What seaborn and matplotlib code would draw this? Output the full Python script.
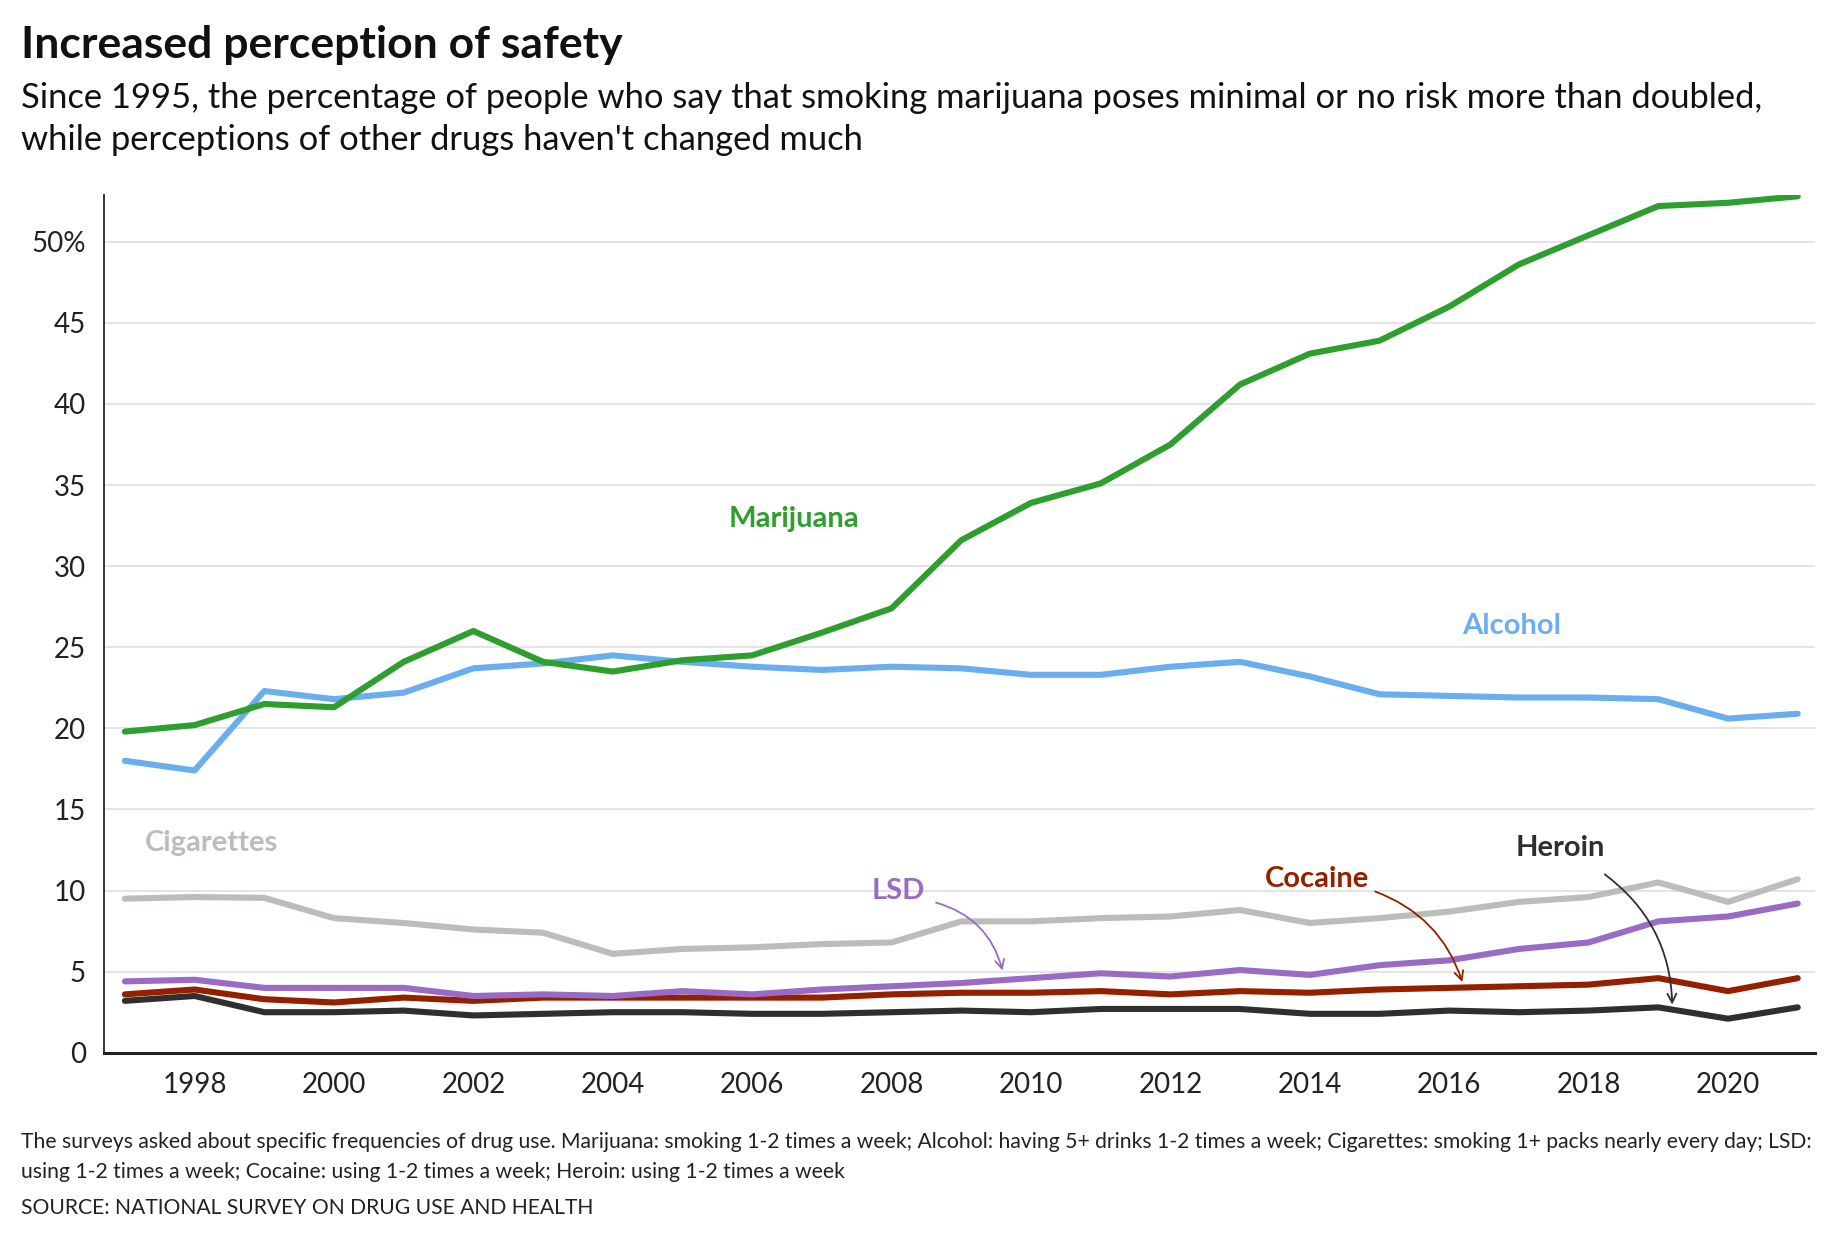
import matplotlib
matplotlib.use("Agg")
import matplotlib.pyplot as plt
import seaborn as sns
import pandas as pd

years = list(range(1997, 2022))
marijuana = [19.8, 20.2, 21.5, 21.3, 24.1, 26.0, 24.1, 23.5, 24.2, 24.5, 25.9, 27.4, 31.6,
             33.9, 35.1, 37.5, 41.2, 43.1, 43.9, 46.0, 48.6, 50.4, 52.2, 52.4, 52.8]
alcohol = [18.0, 17.4, 22.3, 21.8, 22.2, 23.7, 24.0, 24.5, 24.1, 23.8, 23.6, 23.8, 23.7,
           23.3, 23.3, 23.8, 24.1, 23.2, 22.1, 22.0, 21.9, 21.9, 21.8, 20.6, 20.9]
cigarettes = [9.5, 9.6, 9.55, 8.3, 8.0, 7.6, 7.4, 6.1, 6.4, 6.5, 6.7, 6.8, 8.1,
              8.1, 8.3, 8.4, 8.8, 8.0, 8.3, 8.7, 9.3, 9.6, 10.5, 9.3, 10.7]
lsd = [4.4, 4.5, 4.0, 4.0, 4.0, 3.5, 3.6, 3.5, 3.8, 3.6, 3.9, 4.1, 4.3,
       4.6, 4.9, 4.7, 5.1, 4.8, 5.4, 5.7, 6.4, 6.8, 8.1, 8.4, 9.2]
cocaine = [3.6, 3.9, 3.3, 3.1, 3.4, 3.2, 3.4, 3.4, 3.4, 3.4, 3.4, 3.6, 3.7,
           3.7, 3.8, 3.6, 3.8, 3.7, 3.9, 4.0, 4.1, 4.2, 4.6, 3.8, 4.6]
heroin = [3.2, 3.5, 2.5, 2.5, 2.6, 2.3, 2.4, 2.5, 2.5, 2.4, 2.4, 2.5, 2.6,
          2.5, 2.7, 2.7, 2.7, 2.4, 2.4, 2.6, 2.5, 2.6, 2.8, 2.1, 2.8]

drugs = ["Cigarettes", "Alcohol", "Heroin", "Cocaine", "LSD", "Marijuana"]
series = [cigarettes, alcohol, heroin, cocaine, lsd, marijuana]
colors = {"Marijuana": "#2e9e2e", "Alcohol": "#6aaef0", "Cigarettes": "#babeb8",
          "LSD": "#9a6bc4", "Cocaine": "#942000", "Heroin": "#2f2f2f"}

df = pd.DataFrame({
    "year": years * len(drugs),
    "pct": sum(series, []),
    "drug": [d for d in drugs for _ in years],
})

sns.set_style("white")
plt.rcParams["font.family"] = ["Lato", "DejaVu Sans"]

fig = plt.figure(figsize=(18.4, 12.4), dpi=100)
ax = fig.add_axes([0.0565, 0.151, 0.93, 0.692])

sns.lineplot(data=df, x="year", y="pct", hue="drug", palette=colors,
             hue_order=drugs, linewidth=4.4, legend=False, ax=ax)

ax.set_xlim(1996.7, 2021.25)
ax.set_ylim(0, 52.9)
ax.set_xticks(range(1998, 2021, 2))
ax.set_yticks(range(0, 51, 5))
ax.set_yticklabels([str(v) for v in range(0, 50, 5)] + ["50%"])
ax.grid(axis="y", color="#e2e2e2", linewidth=1.3)
ax.set_axisbelow(True)
ax.set_xlabel("")
ax.set_ylabel("")
for s in ["top", "right"]:
    ax.spines[s].set_visible(False)
ax.spines["left"].set_color("#222222")
ax.spines["bottom"].set_color("#222222")
ax.spines["left"].set_linewidth(1.3)
ax.spines["bottom"].set_linewidth(2.2)
ax.tick_params(axis="y", length=7, width=1.3, color="#222222", labelsize=20,
               pad=6, labelcolor="#222222")
ax.tick_params(axis="x", length=0, labelsize=20, pad=14, labelcolor="#222222")

# line labels
lab = dict(fontsize=21, fontweight="bold", ha="center", va="center")
ax.text(2006.6, 32.9, "Marijuana", color=colors["Marijuana"], **lab)
ax.text(2016.9, 26.3, "Alcohol", color=colors["Alcohol"], **lab)
ax.text(1998.25, 12.95, "Cigarettes", color=colors["Cigarettes"], **lab)
ax.text(2008.1, 10.0, "LSD", color=colors["LSD"], **lab)
ax.text(2014.1, 10.7, "Cocaine", color=colors["Cocaine"], **lab)
ax.text(2017.6, 12.6, "Heroin", color=colors["Heroin"], **lab)

arrow = dict(arrowstyle="->", lw=1.3, mutation_scale=16)
ax.annotate("", xy=(2009.6, 4.9), xytext=(2008.6, 9.3),
            arrowprops=dict(color=colors["LSD"], connectionstyle="arc3,rad=-0.3", **arrow))
ax.annotate("", xy=(2016.2, 4.2), xytext=(2014.9, 10.0),
            arrowprops=dict(color=colors["Cocaine"], connectionstyle="arc3,rad=-0.25", **arrow))
ax.annotate("", xy=(2019.2, 2.8), xytext=(2018.2, 11.1),
            arrowprops=dict(color=colors["Heroin"], connectionstyle="arc3,rad=-0.25", **arrow))

fig.text(0.0115, 0.964, "Increased perception of safety", fontsize=32,
         fontweight="bold", va="center", color="#111111")
fig.text(0.0115, 0.921, "Since 1995, the percentage of people who say that smoking marijuana "
         "poses minimal or no risk more than doubled,", fontsize=24.8, va="center", color="#111111")
fig.text(0.0115, 0.887, "while perceptions of other drugs haven't changed much",
         fontsize=24.8, va="center", color="#111111")

fig.text(0.0115, 0.079, "The surveys asked about specific frequencies of drug use. Marijuana: "
         "smoking 1-2 times a week; Alcohol: having 5+ drinks 1-2 times a week; Cigarettes: "
         "smoking 1+ packs nearly every day; LSD:", fontsize=15.2, va="center", color="#222222")
fig.text(0.0115, 0.055, "using 1-2 times a week; Cocaine: using 1-2 times a week; Heroin: "
         "using 1-2 times a week", fontsize=15.2, va="center", color="#222222")
fig.text(0.0115, 0.026, "SOURCE: NATIONAL SURVEY ON DRUG USE AND HEALTH", fontsize=15.2,
         va="center", color="#222222")

fig.savefig("out.png", dpi=100, facecolor="white")
